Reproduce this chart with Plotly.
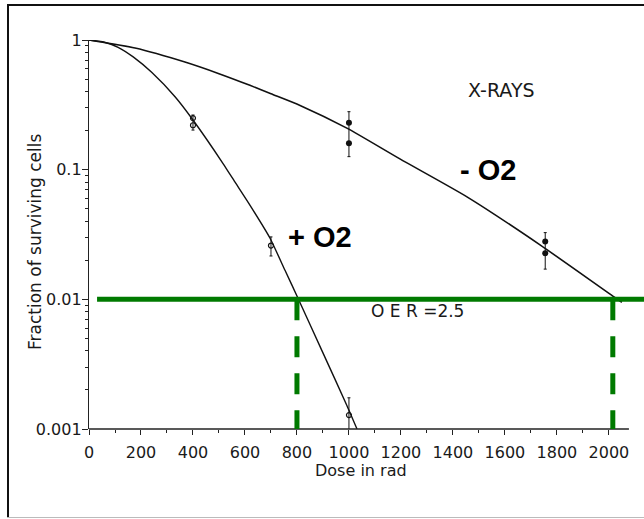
import math
import plotly.graph_objects as go

# ---------------- data ----------------
# fitted survival curves
curve_plus_dose = [0, 56, 112, 170, 242, 331, 400, 515, 562, 619, 696, 754, 804, 896, 992, 1031]
curve_plus_sf = [1.0, 0.966, 0.879, 0.741, 0.561, 0.365, 0.2415, 0.112, 0.080, 0.0533, 0.0297,
                 0.01675, 0.0102, 0.00402, 0.00152, 0.001]

curve_minus_dose = [0, 177, 369, 500, 619, 700, 812, 992, 1196, 1454, 1735, 2015, 2050]
curve_minus_sf = [1.0, 0.867, 0.676, 0.55, 0.447, 0.385, 0.313, 0.209, 0.121, 0.0617, 0.0263, 0.0106, 0.0095]

# measured points (+O2 open circles, -O2 filled circles)
plus_dose = [400, 400, 700, 1000]
plus_sf = [0.25, 0.22, 0.026, 0.00128]
plus_bar_dose = [400, 700, 1000]
plus_bar_lo = [0.202, 0.0216, 0.0009]
plus_bar_hi = [0.264, 0.0303, 0.00174]

minus_dose = [1000, 1000, 1755, 1755]
minus_sf = [0.23, 0.16, 0.0279, 0.0227]
minus_bar_dose = [1000, 1755]
minus_bar_lo = [0.126, 0.0171]
minus_bar_hi = [0.28, 0.0327]

# OER construction
sf_level = 0.01
dose_plus_at_level = 800
dose_minus_at_level = 2015

x_ticks = [0, 200, 400, 600, 800, 1000, 1200, 1400, 1600, 1800, 2000]
x_ticklabels = ["0", "200", "400", "600", "800", "1000", "1200", "1400", "1600", "1800", "2000"]
x_minor = [100, 300, 500, 700, 900, 1100, 1300, 1500, 1700, 1900]
y_ticks = [0.001, 0.01, 0.1, 1]
y_ticklabels = ["0.001", "0.01", "0.1", "1"]

# ---------------- layout geometry ----------------
W, H = 644, 519
L, R, T, B = 89, 0, 40, 90
X_MAX = 2135          # x range so that the plot reaches the right edge
Y_MIN, Y_MAX = -3, 0  # log10 range
PW, PH = W - L - R, H - T - B


def px(xp):
    return (xp - L) / PW


def py(yp):
    return (H - B - yp) / PH


FONT = "DejaVu Sans"
TXT = "#1a1a1a"

fig = go.Figure()

# curves
fig.add_trace(go.Scatter(x=curve_minus_dose, y=curve_minus_sf, mode="lines",
                         line=dict(color="#111", width=1.6, shape="spline", smoothing=0.6),
                         hoverinfo="skip"))
fig.add_trace(go.Scatter(x=curve_plus_dose, y=curve_plus_sf, mode="lines",
                         line=dict(color="#111", width=1.4, shape="spline", smoothing=0.5),
                         hoverinfo="skip"))


def bar_trace(doses, lo, hi):
    mids = [math.sqrt(a * b) for a, b in zip(lo, hi)]
    return go.Scatter(
        x=doses, y=mids, mode="markers",
        marker=dict(size=1, color="rgba(0,0,0,0)"),
        error_y=dict(type="data", symmetric=False,
                     array=[h - m for h, m in zip(hi, mids)],
                     arrayminus=[m - l for m, l in zip(mids, lo)],
                     color="#111", thickness=1, width=1.5),
        hoverinfo="skip")


fig.add_trace(bar_trace(plus_bar_dose, plus_bar_lo, plus_bar_hi))
fig.add_trace(bar_trace(minus_bar_dose, minus_bar_lo, minus_bar_hi))

fig.add_trace(go.Scatter(x=plus_dose, y=plus_sf, mode="markers",
                         marker=dict(symbol="circle-open", size=5, color="#111",
                                     line=dict(width=1.2, color="#111"))))
fig.add_trace(go.Scatter(x=minus_dose, y=minus_sf, mode="markers",
                         marker=dict(symbol="circle", size=6, color="#111")))

GREEN = "#007a00"
shapes = [
    # x axis line (ends a little after 2000)
    dict(type="line", xref="x", yref="paper", x0=0, x1=2077, y0=0, y1=0,
         line=dict(color="#222", width=1.3)),
    # OER level line
    dict(type="line", xref="x", yref="y", x0=31, x1=X_MAX, y0=sf_level, y1=sf_level,
         line=dict(color=GREEN, width=5)),
    dict(type="line", xref="x", yref="y", x0=dose_plus_at_level, x1=dose_plus_at_level,
         y0=sf_level, y1=10 ** Y_MIN, line=dict(color=GREEN, width=5, dash="21px,16px")),
    dict(type="line", xref="x", yref="y", x0=dose_minus_at_level, x1=dose_minus_at_level,
         y0=sf_level, y1=10 ** Y_MIN, line=dict(color=GREEN, width=5, dash="21px,16px")),
    # picture frame
    dict(type="line", xref="paper", yref="paper", x0=px(8), x1=px(8), y0=py(5), y1=py(517),
         line=dict(color="#111", width=2)),
    dict(type="line", xref="paper", yref="paper", x0=px(7), x1=px(W), y0=py(5), y1=py(5),
         line=dict(color="#111", width=2)),
    dict(type="line", xref="paper", yref="paper", x0=px(7), x1=px(W), y0=py(517.5), y1=py(517.5),
         line=dict(color="#bbb", width=1)),
]

C = dict(xanchor="center", yanchor="middle", showarrow=False)
annotations = [
    dict(text="X-RAYS", x=1585, y=math.log10(0.41), xref="x", yref="y",
         font=dict(family=FONT, size=19, color=TXT), **C),
    dict(text="<b>- O2</b>", x=1535, y=-1.0, xref="x", yref="y",
         font=dict(family="Liberation Sans", size=29, color="#000"), **C),
    dict(text="<b>+ O2</b>", x=888, y=-1.52, xref="x", yref="y",
         font=dict(family="Liberation Sans", size=29, color="#000"), **C),
    dict(text="O E R =2.5", x=1265, y=-2.09, xref="x", yref="y",
         font=dict(family=FONT, size=17, color=TXT), **C),
    dict(text="Dose in rad", x=px(361), y=py(470), xref="paper", yref="paper",
         font=dict(family=FONT, size=16, color=TXT), **C),
    dict(text="Fraction of surviving cells", x=px(35), y=py(242), xref="paper", yref="paper",
         textangle=-90, font=dict(family=FONT, size=17, color=TXT), **C),
]

fig.update_layout(
    width=W, height=H, autosize=False,
    margin=dict(l=L, r=R, t=T, b=B, pad=0),
    paper_bgcolor="white", plot_bgcolor="white",
    showlegend=False,
    shapes=shapes, annotations=annotations,
    xaxis=dict(range=[0, X_MAX], showgrid=False, zeroline=False, showline=False,
               tickmode="array", tickvals=x_ticks, ticktext=x_ticklabels,
               ticks="outside", ticklen=5, tickwidth=1.2, tickcolor="#222",
               ticklabelstandoff=4,
               tickfont=dict(family=FONT, size=16, color=TXT),
               minor=dict(tickmode="array", tickvals=x_minor,
                          ticks="outside", ticklen=3, tickwidth=1.2, tickcolor="#222")),
    yaxis=dict(type="log", range=[Y_MIN, Y_MAX], showgrid=False, zeroline=False,
               showline=True, linecolor="#222", linewidth=1.3,
               tickmode="array", tickvals=y_ticks, ticktext=y_ticklabels,
               ticks="outside", ticklen=6, tickwidth=1.2, tickcolor="#222",
               ticklabelstandoff=-3,
               tickfont=dict(family=FONT, size=16, color=TXT),
               minor=dict(dtick="D1", ticks="outside", ticklen=3, tickwidth=1.2, tickcolor="#222")),
)

fig.write_html("out.html")
